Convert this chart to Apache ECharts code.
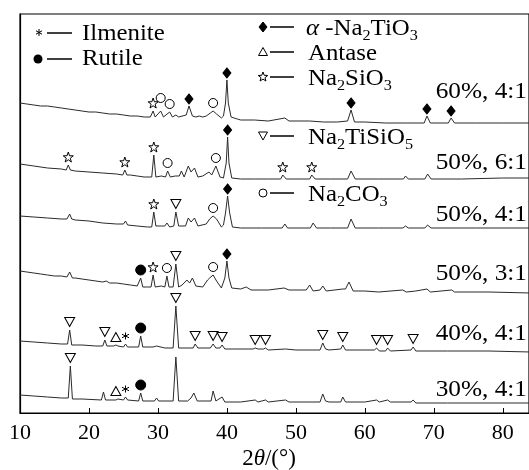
<!DOCTYPE html>
<html><head><meta charset="utf-8">
<script src="https://cdn.jsdelivr.net/npm/echarts@6/dist/echarts.min.js"></script>
<style>html,body{margin:0;padding:0;background:#fff}#c{width:529px;height:470px}</style>
</head><body><div id="c"></div>
<script>
// XRD patterns: [2theta (deg), intensity (a.u., stacked)]
const p60_41 = [[10,310],[11,309],[12,308],[13,307],[14,307],[15,306],[16,305],[17,304],[18,303],[19,302],[20,301],[21,301],[22,300],[23,299],[24,299],[25,298],[26,297],[27,297],[28,296],[28.9,296],[29.3,302],[29.6,296],[30.4,302],[30.8,296],[31.7,301],[32.1,296],[32.6,298],[33,296],[34.1,298],[34.5,307],[35.0,297],[35.5,296],[36,297],[36.5,296],[37,297],[37.6,300],[38.0,302],[38.5,299],[39.2,295],[39.5,297],[39.8,310],[40.0,333],[40.2,310],[40.6,296],[41.5,294],[42,293],[44,293],[46,292],[48.4,295],[49,292],[52,292],[54,291],[56,291],[57.5,292],[58.0,303],[58.5,291],[60,291],[63,290],[66,290],[68.6,290],[69.0,297],[69.5,290],[72.1,290],[72.5,295],[73,290],[76,290],[80,290],[84,290]];
const p50_61 = [[10,249],[12,247],[14,245],[16,244],[16.7,243],[17.0,248],[17.3,243],[18,242],[20,241],[22,240],[24,239],[24.9,238],[25.2,243],[25.5,238],[26,238],[27,237],[28,236],[29.1,236],[29.4,258],[29.7,236],[30.5,237],[31.1,236],[31.4,242],[31.8,236],[32.5,237],[33.1,237],[33.4,242],[33.8,236],[34.4,247],[34.8,241],[35.3,245],[35.8,236],[36.5,237],[37.4,241],[37.8,238],[38.4,247],[39.0,236],[39.5,235],[39.9,250],[40.1,276],[40.3,250],[40.7,235],[42,234],[44,234],[46,234],[47.8,234],[48.1,238],[48.6,234],[50,234],[52.0,234],[52.3,238],[52.8,234],[55,234],[57.5,234],[58.0,242],[58.6,234],[62,234],[65.6,234],[65.9,237],[66.3,234],[68.7,234],[69.1,239],[69.6,234],[74,234],[80,235],[84,235]];
const p50_41 = [[10,197],[12,196],[14,195],[16,194],[16.8,194],[17.2,199],[17.5,194],[18,193],[20,192],[22,190],[24,189],[25.0,189],[25.3,192],[25.6,188],[27,187],[28.5,186],[29.1,186],[29.4,201],[29.7,187],[30.5,187],[31.0,187],[31.3,190],[31.7,186],[32.3,187],[32.6,201],[33.0,187],[34.0,187],[34.4,195],[34.8,191],[35.3,195],[35.8,187],[37,189],[37.5,194],[38.0,197],[38.5,194],[39.2,186],[39.5,188],[39.8,200],[40.1,217],[40.4,200],[40.8,186],[42,185],[45,185],[48.0,185],[48.4,189],[48.8,185],[52.1,185],[52.5,190],[53,185],[55,185],[57.5,185],[58.0,194],[58.6,185],[62,185],[65.5,185],[65.9,187],[66.3,185],[68.7,185],[69.1,188],[69.6,185],[76,185],[84,185]];
const p50_31 = [[10,142],[11,141],[12,140],[13,139],[14,138],[15,137],[16,137],[16.8,136],[17.2,141],[17.6,135],[18,135],[19,134],[20,133],[21,132],[22,131],[22.5,132],[23,130],[24,130],[25,129],[26,128],[27,127],[27.2,127],[27.5,135],[27.8,126],[28.5,126],[29.0,126],[29.3,138],[29.6,126],[30.5,127],[31.0,126],[31.3,137],[31.6,126],[32.2,126],[32.6,149],[33.0,126],[33.5,128],[34.2,133],[34.6,130],[35.0,135],[35.5,127],[36.5,126],[37.2,133],[37.5,135],[38.0,138],[38.5,132],[39.2,125],[39.7,135],[40.0,152],[40.3,135],[40.7,125],[42,124],[42.8,126],[43.5,123],[46,123],[48.3,125],[49,123],[51.5,123],[52.0,128],[52.5,122],[53.5,123],[53.9,127],[54.4,122],[56.8,124],[57.2,124],[57.7,131],[58.3,122],[60,122],[62,121],[65.5,123],[66,121],[67.4,122],[69.0,124],[69.5,121],[72.6,123],[73,121],[78,121],[84,120]];
const p40_41 = [[10,72],[12,71],[14,70],[16,69],[16.9,69],[17.2,83],[17.5,68],[19,68],[21,67],[22.0,67],[22.3,73],[22.6,67],[23.6,67],[23.9,68],[24.2,67],[25.0,66],[25.3,69],[25.6,66],[27.2,66],[27.5,77],[27.8,66],[29.3,66],[29.8,67],[31.0,65],[32.2,65],[32.6,107],[33.0,65],[34.5,65],[35.1,65],[35.4,69],[35.8,65],[37.6,65],[38.0,69],[38.4,65],[39.0,65],[39.3,68],[39.7,64],[41,64],[43.8,64],[44.1,65],[44.5,64],[45.3,64],[45.6,65],[46,63],[48.5,64],[50,63],[53.5,63],[53.9,70],[54.3,64],[54.8,63],[56.5,64],[56.8,68],[57.2,63],[60,63],[61.4,63],[61.7,65],[62.1,62],[63.0,62],[63.3,65],[63.7,62],[66.7,63],[67.0,66],[67.4,62],[72,62],[78,62],[84,61]];
const p30_41 = [[10,18],[12,17],[14,16],[16,15],[17.0,15],[17.3,47],[17.6,14],[19,14],[21.8,13],[22.1,21],[22.4,13],[23.9,13],[24.2,14],[25.0,13],[25.3,16],[25.6,13],[27.2,12],[27.5,20],[27.8,12],[29.5,12],[29.8,15],[30.1,12],[32.2,12],[32.6,56],[33.0,12],[34.3,12],[34.8,15],[35.2,20],[35.7,12],[37.7,12],[38.0,22],[38.4,12],[39.3,16],[39.7,11],[42,11],[44.1,13],[44.5,11],[45.6,13],[46,11],[48.5,13],[49,11],[53.5,11],[53.9,19],[54.3,12],[54.8,11],[56.5,11],[56.8,16],[57.2,11],[60,11],[61.7,13],[62.1,11],[63.3,13],[63.7,11],[66.7,11],[67.0,13],[67.4,10],[72,10],[78,10],[84,10]];
const patterns = [p60_41, p50_61, p50_41, p50_31, p40_41, p30_41];
const sampleLabels = ['60%, 4:1','50%, 6:1','50%, 4:1','50%, 3:1','40%, 4:1','30%, 4:1'];

// phase markers: [2theta, pattern index, extra lift]
const mNa2TiO3  = [[34.5,0],[40.0,0],[58.0,0],[69.0,0],[72.5,0],[40.1,1],[40.1,2],[40.0,3]];
const mNa2CO3   = [[30.4,0,5],[31.7,0],[38.0,0],[31.4,1],[38.4,1],[38.0,2],[31.3,3],[38.0,3]];
const mNa2SiO3  = [[29.3,0],[17.0,1],[25.2,1],[29.4,1],[48.1,1],[52.3,1],[29.4,2],[29.3,3]];
const mNa2TiSiO5= [[32.6,2],[32.6,3],[17.2,4],[22.3,4],[32.6,4],[35.4,4],[38.0,4],[39.3,4],[44.1,4],[45.6,4],[53.9,4],[56.8,4],[61.7,4],[63.3,4],[67.0,4],[17.3,5]];
const mRutile   = [[27.5,3],[27.5,4],[27.5,5]];
const mAntase   = [[23.9,4],[23.9,5]];
const mIlmenite = [[25.3,4],[25.3,5]];
const xTicks = [10,20,30,40,50,60,70,80];

const SERIF = 'Liberation Serif';
function peakTop(data, t){ let m=-1e9; data.forEach(p=>{ if(Math.abs(p[0]-t)<=0.35 && p[1]>m) m=p[1]; }); return m; }
function marks(list, gap){ return list.map(m=>[m[0], peakTop(patterns[m[1]], m[0]) + gap + (m[2]||0)]); }

const STAR = 'path://M0,-10L2.35,-3.24L9.51,-3.09L3.8,1.24L5.88,8.09L0,4L-5.88,8.09L-3.8,1.24L-9.51,-3.09L-2.35,-3.24Z';
const AST = 'path://M0,-10L0,10M-8.66,-5L8.66,5M-8.66,5L8.66,-5';

const series = patterns.map(d=>({type:'line', data:d, symbol:'none', silent:true, animation:false,
  lineStyle:{color:'#2a2a2a', width:1}, z:2}));
function sc(data, symbol, size, fill, extra){
  return Object.assign({type:'scatter', data:data, symbol:symbol, symbolSize:size, animation:false, silent:true, z:3,
    itemStyle:{color:fill, borderColor:'#000', borderWidth:1, opacity:1}}, extra||{});
}
series.push(sc(marks(mNa2TiO3,7),'diamond',[8,10],'#000'));
series.push(sc(marks(mNa2CO3,8),'circle',9,'#fff'));
series.push(sc(marks(mNa2SiO3,8),STAR,10,'#fff'));
series.push(sc(marks(mNa2TiSiO5,8),'triangle',[10,9],'#fff',{symbolRotate:180}));
series.push(sc(marks(mRutile,8),'circle',10,'#000'));
series.push(sc(marks(mAntase,8),'triangle',[10,9],'#fff'));
series.push(sc(marks(mIlmenite,8),AST,[7,7],'none'));

// legend / annotation graphics
const richBase = {
  n:{fontSize:23, fontFamily:SERIF, lineHeight:30, fill:'#000'},
  i:{fontSize:23, fontFamily:SERIF, lineHeight:30, fontStyle:'italic', fill:'#000'},
  s:{fontSize:15, fontFamily:SERIF, lineHeight:15, verticalAlign:'bottom', fill:'#000'}
};
function txt(x,y,text,align,sx){
  return {type:'text', x:x, y:y, silent:true, z:10, scaleX:sx||1,
    style:{text:text, rich:richBase, fontSize:23, fontFamily:SERIF, fill:'#000', align:align||'left', verticalAlign:'middle'}};
}
function dash(x1,x2,y){ return {type:'line', silent:true, z:10, shape:{x1:x1,y1:y,x2:x2,y2:y}, style:{stroke:'#000', lineWidth:1.5}}; }
function poly(pts, fill){ return {type:'polygon', silent:true, z:10, shape:{points:pts}, style:{fill:fill, stroke:'#000', lineWidth:1}}; }
function starPts(cx,cy,R,r){ const p=[]; for(let k=0;k<10;k++){ const a=-Math.PI/2+k*Math.PI/5; const rr=k%2?r:R; p.push([cx+rr*Math.cos(a), cy+rr*Math.sin(a)]);} return p; }
const g = [];
const SX = 1.08;
// left legend
g.push({type:'group', silent:true, z:10, children:[
  {type:'line', shape:{x1:39,y1:29,x2:39,y2:36}, style:{stroke:'#000',lineWidth:1}},
  {type:'line', shape:{x1:36,y1:30.8,x2:42,y2:34.2}, style:{stroke:'#000',lineWidth:1}},
  {type:'line', shape:{x1:36,y1:34.2,x2:42,y2:30.8}, style:{stroke:'#000',lineWidth:1}}
]});
g.push(dash(47,72,33)); g.push(txt(82,34,'{n|Ilmenite}','left',SX));
g.push({type:'circle', silent:true, z:10, shape:{cx:38,cy:59,r:4.5}, style:{fill:'#000'}});
g.push(dash(47,72,59)); g.push(txt(82,59,'{n|Rutile}','left',SX));
// right legend
g.push(poly([[263,22],[267,27],[263,32],[259,27]],'#000')); g.push(dash(270,294,27));
g.push(txt(306,29,'{i|α}{n| -Na}{s|2}{n|TiO}{s|3}','left',SX));
g.push(poly([[263,47.5],[267.5,55.5],[258.5,55.5]],'#fff')); g.push(dash(270,294,52));
g.push(txt(308,54,'{n|Antase}','left',SX));
g.push(poly(starPts(263,77,5,2.1),'#fff')); g.push(dash(270,294,77));
g.push(txt(308,79,'{n|Na}{s|2}{n|SiO}{s|3}','left',SX));
g.push(poly([[263,140],[267.5,132],[258.5,132]],'#fff')); g.push(dash(270,294,136));
g.push(txt(308,138,'{n|Na}{s|2}{n|TiSiO}{s|5}','left',SX));
g.push({type:'circle', silent:true, z:10, shape:{cx:263,cy:193,r:4}, style:{fill:'#fff', stroke:'#000', lineWidth:1}});
g.push(dash(270,294,193)); g.push(txt(308,195,'{n|Na}{s|2}{n|CO}{s|3}','left',SX));
// sample labels
const labY = [92,163,215,274,334,390];
sampleLabels.forEach((s,k)=>g.push(txt(527,labY[k],'{n|'+s+'}','right',1.1)));
// axis title
g.push(txt(269,459,'{n|2}{i|θ}{n|/(°)}','center'));

const chart = echarts.init(document.getElementById('c'), null, {renderer:'canvas'});
chart.setOption({
  animation:false,
  backgroundColor:'#fff',
  grid:{left:20, top:14, right:0, bottom:57, containLabel:false, outerBoundsMode:'none', show:true, borderColor:'#000', borderWidth:1.2},
  xAxis:{type:'value', min:10, max:83.8, interval:10,
    axisLine:{show:true, lineStyle:{color:'#000', width:1.2}},
    axisTick:{show:true, inside:true, length:5, lineStyle:{color:'#000', width:1}},
    axisLabel:{fontSize:22, fontFamily:SERIF, color:'#000', margin:9,
      customValues:xTicks, formatter:v=>String(v)},
    splitLine:{show:false}},
  yAxis:{type:'value', min:0, max:399, axisLabel:{show:false}, axisTick:{show:false},
    axisLine:{show:true, lineStyle:{color:'#000', width:1.2}}, splitLine:{show:false}},
  series:series,
  graphic:g
});
</script></body></html>
